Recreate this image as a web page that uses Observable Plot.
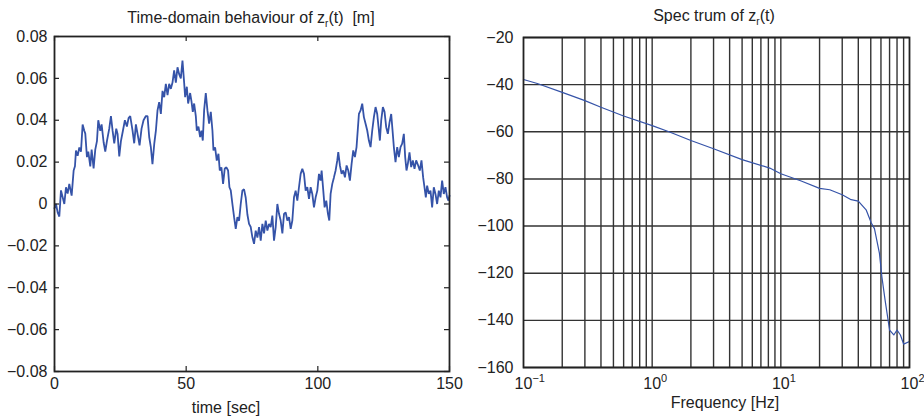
<!DOCTYPE html>
<html><head><meta charset="utf-8">
<script src="https://cdn.jsdelivr.net/npm/d3@7"></script>
<script src="https://cdn.jsdelivr.net/npm/@observablehq/plot@0.6"></script>
<style>
body{margin:0;background:#fff;}
#wrap{position:relative;width:924px;height:417px;font-family:"Liberation Sans",Arial,sans-serif;color:#222;overflow:hidden;}
.lbl{position:absolute;font-size:16px;line-height:16px;white-space:nowrap;transform:translateX(-50%);}
.lbl .sb{font-size:10px;position:relative;top:4px;}
#wrap svg{position:absolute;top:0;overflow:visible;}
</style></head><body>
<div id="wrap">
  <div id="leftPlot"></div>
  <div id="rightPlot"></div>
  <div class="lbl" style="left:251px;top:10px">Time-domain behaviour of z<span class="sb">r</span>(t)&nbsp;&nbsp;[m]</div>
  <div class="lbl" style="left:714px;top:8px">Spec trum of z<span class="sb">r</span>(t)</div>
  <div class="lbl" style="left:226px;top:400px">time [sec]</div>
  <div class="lbl" style="left:725px;top:395px">Frequency [Hz]</div>
</div>
<script>
// ---- time-domain series (seconds, metres) ----
const timeSec = [0,0.57,1.2,1.83,2.46,3.73,4.36,4.99,5.62,6.51,7.27,7.77,8.15,8.79,9.42,10.05,10.68,11.31,11.69,12.32,12.83,13.59,14.1,14.85,15.48,16.12,16.62,17.38,17.89,18.65,19.28,19.91,20.79,21.43,22.06,22.69,23.45,23.95,24.59,25.22,25.98,26.73,27.49,28.13,28.76,29.64,30.27,30.91,31.54,32.3,33.06,33.81,34.7,35.33,35.96,36.6,37.2,37.9,38.5,39.12,39.75,40.39,41.02,41.65,42.28,42.92,43.55,44.18,44.81,45.44,46.08,46.71,47.34,47.97,48.6,49.23,49.61,50.25,50.75,51.51,52.02,52.52,53.03,53.66,54.04,54.67,55.3,55.81,56.31,56.82,57.45,58.08,58.71,59.35,59.98,60.36,60.99,61.62,62.26,62.76,63.39,64.02,64.66,65.29,65.92,66.43,66.93,67.56,68.2,68.83,69.46,70.09,70.72,71.36,71.99,72.62,73.25,73.88,74.52,75.15,75.78,76.41,77.05,77.68,78.31,78.94,79.57,80.21,80.84,81.47,82.1,82.73,83.36,84.0,84.63,85.26,85.89,86.53,87.16,87.79,88.42,89.05,89.69,90.32,90.95,91.58,92.21,92.84,93.48,94.11,94.74,95.37,96.01,96.64,97.27,97.9,98.53,99.17,99.8,100.43,101.06,101.44,102.07,102.58,103.21,103.84,104.35,104.85,105.49,106.12,106.75,107.38,107.76,108.39,109.03,109.66,110.29,110.92,111.55,112.18,112.82,113.45,114.08,114.7,115.6,116.23,116.86,117.49,118.13,118.76,119.39,120.02,120.66,121.29,121.92,122.55,123.18,123.56,124.07,124.7,125.33,125.96,126.59,127.23,127.86,128.37,128.87,129.5,130.14,130.77,131.4,132.03,132.66,133.17,133.67,134.18,134.81,135.44,136.08,136.71,137.34,138.1,138.73,139.36,139.99,140.5,141.01,141.51,142.14,142.78,143.41,144.04,144.67,145.3,145.94,146.57,147.2,147.83,148.47,149.1,149.6,150];
const zr = [-0.002,0.0,-0.004,-0.006,0.0065,0.0,0.008,0.005,0.0096,0.004,0.016,0.018,0.0255,0.023,0.027,0.025,0.038,0.035,0.0336,0.0224,0.025,0.018,0.026,0.017,0.026,0.03,0.04,0.035,0.038,0.0295,0.025,0.03,0.036,0.042,0.035,0.029,0.036,0.0335,0.0227,0.03,0.035,0.04,0.037,0.041,0.042,0.035,0.029,0.038,0.0335,0.028,0.036,0.04,0.042,0.042,0.032,0.027,0.019,0.029,0.035,0.0447,0.0486,0.043,0.054,0.051,0.0574,0.052,0.0574,0.055,0.058,0.0638,0.058,0.0653,0.062,0.06,0.0685,0.058,0.051,0.056,0.048,0.053,0.049,0.044,0.048,0.042,0.035,0.037,0.032,0.035,0.0303,0.0447,0.053,0.0447,0.0384,0.044,0.035,0.0256,0.027,0.0207,0.024,0.016,0.0175,0.0096,0.017,0.0175,0.016,0.008,0.0065,0.0,-0.0063,-0.0119,-0.0063,-0.008,0.0,0.0065,0.007,0.003,-0.005,-0.0095,-0.011,-0.0159,-0.019,-0.0127,-0.016,-0.011,-0.0175,-0.0095,-0.014,-0.0079,-0.0127,-0.0095,-0.011,-0.0055,-0.0175,-0.011,0.0,-0.0047,-0.0079,-0.014,-0.0047,-0.004,-0.0079,-0.0063,-0.0119,-0.0079,0.0032,0.0064,0.0016,0.008,0.0144,0.0168,0.0144,0.0064,0.008,0.0024,0.008,0.0048,-0.0016,0.0032,0.0064,0.0144,0.0112,0.016,0.0064,-0.0016,0.0016,-0.0047,-0.0079,0.0048,0.0096,0.0127,0.016,0.0208,0.0248,0.0184,0.0144,0.016,0.0127,0.0184,0.016,0.0112,0.0192,0.0256,0.0224,0.0272,0.043,0.0447,0.0479,0.0415,0.0383,0.0351,0.0303,0.0272,0.0351,0.0415,0.0463,0.043,0.0351,0.0303,0.0399,0.0463,0.044,0.0367,0.0335,0.039,0.043,0.0351,0.0272,0.02,0.0272,0.0224,0.0272,0.0288,0.0335,0.0224,0.016,0.0192,0.0247,0.0176,0.0208,0.0168,0.0208,0.0184,0.016,0.0208,0.0127,0.008,0.0032,0.0088,0.0048,0.0064,-0.0016,0.008,0.0048,0.0,0.0064,0.0032,0.0112,0.0048,0.008,0.0032,0.0016,0.004];

// ---- spectrum (Hz, dB) ----
const freqHz = [0.1,0.128,0.2,0.3,0.4,0.6,1,1.35,2,3,5,8.2,10,14.4,20,24,30,35.2,40,46,50.5,53.4,58.4,61,64.6,70,75.5,80,85,90,100];
const psdDb = [-37.8,-39.5,-43.3,-46.8,-49.6,-53.3,-57.4,-60,-63.7,-67.2,-71.8,-75.4,-77.8,-80.9,-84.0,-84.6,-86.7,-88.8,-89.4,-93.1,-98.7,-101.1,-111.6,-121.5,-131.4,-144.1,-146.2,-144.1,-146.2,-150.1,-149];

// ---- ticks ----
const zTicks = [-0.08,-0.06,-0.04,-0.02,0,0.02,0.04,0.06,0.08];
const tTicks = [0,50,100,150];
const fTicks = [0.1,1,10,100];
const fTickBase = "10";
const fTickExponents = ["\u22121","0","1","2"];
const fGrid = [0.2,0.3,0.4,0.5,0.6,0.7,0.8,0.9,1,2,3,4,5,6,7,8,9,10,20,30,40,50,60,70,80,90];
const dbTicks = [-160,-140,-120,-100,-80,-60,-40,-20];

const timeData = timeSec.map((t, i) => ({t, z: zr[i]}));
const specData = freqHz.map((f, i) => ({f, db: psdDb[i]}));

const ink = "#222";
const blue = "#3553a8";
const baseStyle = {fontFamily: "'Liberation Sans', Arial, sans-serif", fontSize: "16px", color: ink, background: "transparent", overflow: "visible"};

const left = Plot.plot({
  width: 462, height: 417,
  marginLeft: 54, marginRight: 13, marginTop: 36, marginBottom: 46,
  style: baseStyle,
  x: {domain: [0, 150], label: null},
  y: {domain: [-0.08, 0.08], label: null},
  marks: [
    Plot.line(timeData, {x: "t", y: "z", stroke: blue, strokeWidth: 1.8, strokeLinejoin: "miter"}),
    Plot.ruleX(tTicks, {x: d => d, stroke: ink, strokeWidth: 1.2, insetTop: 330}),
    Plot.ruleX(tTicks, {x: d => d, stroke: ink, strokeWidth: 1.2, insetBottom: 330}),
    Plot.ruleY(zTicks, {y: d => d, stroke: ink, strokeWidth: 1.2, insetRight: 390}),
    Plot.ruleY(zTicks, {y: d => d, stroke: ink, strokeWidth: 1.2, insetLeft: 390}),
    Plot.frame({stroke: ink, strokeWidth: 1.8}),
    Plot.axisX({ticks: tTicks, tickSize: 0, tickPadding: 6, tickFormat: "d", label: null}),
    Plot.axisY({ticks: zTicks, tickSize: 0, tickPadding: 7, tickFormat: d => d === 0 ? "0" : d3.format(".2f")(d), label: null})
  ]
});
left.style.left = "0px";
document.getElementById("leftPlot").appendChild(left);

const right = Plot.plot({
  width: 462, height: 417,
  marginLeft: 61, marginRight: 15, marginTop: 37, marginBottom: 50,
  style: baseStyle,
  x: {type: "log", domain: [0.1, 100], label: null},
  y: {domain: [-160, -20], label: null},
  marks: [
    Plot.gridX({ticks: fGrid, stroke: "#333", strokeOpacity: 1, strokeWidth: 1.4}),
    Plot.gridY({ticks: dbTicks, stroke: "#333", strokeOpacity: 1, strokeWidth: 1.4}),
    Plot.line(specData, {x: "f", y: "db", stroke: blue, strokeWidth: 1.2}),
    Plot.frame({stroke: ink, strokeWidth: 1.8}),
    Plot.axisX({ticks: fTicks, tickSize: 0, tickPadding: 10, tickFormat: d => fTickBase, label: null}),
    Plot.axisY({ticks: dbTicks, tickSize: 0, tickPadding: 10, tickFormat: "d", label: null})
  ]
});
right.style.left = "462px";
document.getElementById("rightPlot").appendChild(right);

// power-of-ten labels: base "10" centred on the tick, exponent raised after it
right.querySelectorAll('g[aria-label="x-axis tick label"] text').forEach((el, i) => {
  el.setAttribute("text-anchor", "start");
  el.setAttribute("dx", "-8.9");
  const ts = document.createElementNS("http://www.w3.org/2000/svg", "tspan");
  ts.setAttribute("font-size", "11");
  ts.setAttribute("dy", "-6.5");
  ts.textContent = fTickExponents[i];
  el.appendChild(ts);
});
</script>
</body></html>
